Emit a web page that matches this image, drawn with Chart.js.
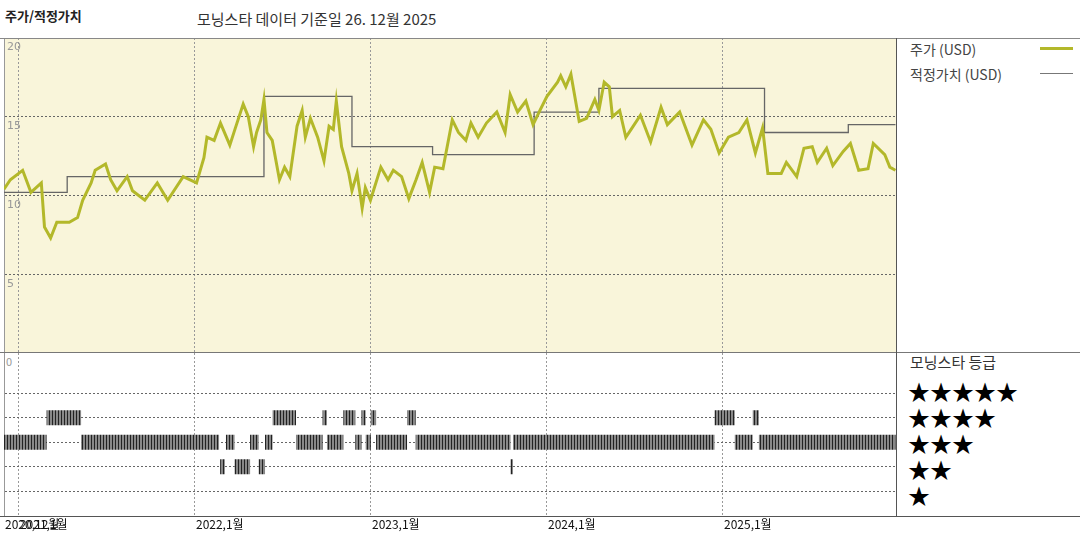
<!DOCTYPE html>
<html><head><meta charset="utf-8">
<script src="https://cdn.jsdelivr.net/npm/chart.js@4"></script>
<style>
body{margin:0;background:#fff;font-family:"Noto Sans CJK KR","Noto Sans",sans-serif;}
#wrap{position:relative;width:1080px;height:540px;overflow:hidden;}
.t{position:absolute;white-space:nowrap;color:#222;}
.hl{position:absolute;background:#555;}
canvas{position:absolute;}
</style></head><body>
<div id="wrap">
<div class="t" style="left:5px;top:6px;font-size:13px;font-weight:bold;">주가/적정가치</div>
<div class="t" style="left:197px;top:8px;font-size:15px;color:#333;">모닝스타 데이터 기준일 26. 12월 2025</div>
<div class="t" style="left:910px;top:39px;font-size:14px;color:#444;">주가 (USD)</div>
<div class="hl" style="left:1040px;top:47px;width:33px;height:3px;background:#b3b82a;"></div>
<div class="t" style="left:910px;top:64px;font-size:14px;color:#444;">적정가치 (USD)</div>
<div class="hl" style="left:1040px;top:73px;width:33px;height:1px;background:#777;"></div>
<div class="t" style="left:910px;top:351px;font-size:15px;color:#333;">모닝스타 등급</div>
<div class="t" style="left:908px;top:377px;font-size:22px;line-height:26px;color:#000;">★★★★★<br>★★★★<br>★★★<br>★★<br>★</div>
<div class="t" style="left:6px;top:353px;font-size:11px;color:#999;">0</div>
<canvas id="c1" width="892" height="315" style="left:4px;top:38px;"></canvas>
<canvas id="c2" width="892" height="187" style="left:4px;top:353px;"></canvas>
<div class="hl" style="left:0;top:38px;width:1080px;height:1px;background:#888;"></div>
<div class="hl" style="left:0;top:352px;width:1080px;height:1px;background:#777;"></div>
<div class="hl" style="left:0;top:516px;width:1080px;height:1px;background:#555;"></div>
<div class="hl" style="left:896px;top:38px;width:1px;height:479px;background:#555;"></div>
</div>
<script>
const xMin = 2020.915, xMax = 2025.983;
const yearTicks = [2021, 2022, 2023, 2024, 2025];
const xLabelPos = [2020.915, 2021, 2022, 2023, 2024, 2025];
const xLabels = ["2020,12월", "2021,1월", "2022,1월", "2023,1월", "2024,1월", "2025,1월"];
const priceTicks = [5, 10, 15, 20];

const priceDates = [2020.915,2020.951,2021.021,2021.068,2021.127,2021.145,2021.180,2021.215,2021.286,2021.333,2021.362,2021.410,2021.433,2021.492,2021.521,2021.557,2021.615,2021.645,2021.715,2021.786,2021.845,2021.933,2022.009,2022.051,2022.068,2022.109,2022.145,2022.198,2022.227,2022.274,2022.303,2022.333,2022.350,2022.374,2022.392,2022.409,2022.439,2022.480,2022.509,2022.539,2022.580,2022.609,2022.627,2022.656,2022.697,2022.733,2022.762,2022.786,2022.803,2022.833,2022.874,2022.892,2022.921,2022.950,2022.968,2022.997,2023.056,2023.097,2023.127,2023.174,2023.215,2023.256,2023.291,2023.333,2023.362,2023.409,2023.462,2023.497,2023.539,2023.568,2023.609,2023.656,2023.715,2023.762,2023.791,2023.833,2023.880,2023.921,2023.960,2024.000,2024.060,2024.078,2024.107,2024.136,2024.183,2024.225,2024.272,2024.295,2024.325,2024.354,2024.372,2024.413,2024.448,2024.478,2024.531,2024.589,2024.648,2024.684,2024.754,2024.824,2024.889,2024.931,2024.978,2025.031,2025.090,2025.136,2025.184,2025.225,2025.255,2025.331,2025.360,2025.419,2025.460,2025.507,2025.536,2025.589,2025.624,2025.683,2025.724,2025.771,2025.824,2025.854,2025.919,2025.948,2025.980];
const priceValues = [10.4,11.0,11.6,10.2,10.8,8.0,7.3,8.3,8.3,8.6,9.7,10.8,11.6,12.0,11.0,10.3,11.2,10.3,9.7,10.8,9.7,11.2,10.8,12.4,13.7,13.5,14.6,13.2,14.2,15.8,15.0,13.1,14.0,14.8,16.1,14.0,13.5,11.0,11.8,11.2,14.4,15.4,13.7,14.9,13.7,12.2,14.4,14.2,16.0,13.1,11.4,10.3,11.4,9.2,10.5,9.7,11.8,11.0,11.6,11.2,9.8,11.0,12.1,10.2,11.8,11.7,14.8,14.0,13.5,14.6,13.7,14.6,15.3,14.0,16.4,15.3,16.0,14.5,15.4,16.3,17.2,17.6,16.9,17.7,14.7,14.9,16.1,15.4,17.2,16.9,15.0,15.4,13.7,14.2,15.1,13.4,15.6,14.5,15.3,13.2,14.8,14.2,12.7,13.7,14.0,14.8,12.7,14.3,11.4,11.4,12.1,11.2,13.0,13.1,12.1,13.0,11.9,12.8,13.3,11.6,11.7,13.3,12.6,11.8,11.6];

const fairDates = [2020.915,2021.274,2022.392,2022.892,2023.350,2023.927,2024.295,2025.236,2025.712,2025.980];
const fairValues = [10.2,11.2,16.3,13.1,12.6,15.3,16.8,14.0,14.5,14.5];

const ratingStart = [2020.915,2021.157,2021.353,2022.143,2022.176,2022.225,2022.313,2022.362,2022.398,2022.441,2022.574,2022.725,2022.750,2022.843,2022.911,2022.946,2022.970,2022.999,2023.029,2023.205,2023.254,2023.793,2023.807,2024.952,2025.067,2025.169,2025.204];
const ratingEnd   = [2021.157,2021.353,2022.137,2022.170,2022.225,2022.313,2022.362,2022.398,2022.441,2022.574,2022.725,2022.750,2022.843,2022.911,2022.946,2022.970,2022.999,2023.029,2023.205,2023.254,2023.793,2023.807,2024.952,2025.067,2025.169,2025.204,2025.981];
const ratingStars = [3,4,3,2,3,2,3,2,3,4,3,4,3,4,3,4,3,4,3,4,3,2,3,4,3,4,3];

const fairData = [];
fairDates.forEach((d,i)=>{ if(i>0) fairData.push({x:d,y:fairValues[i-1]}); fairData.push({x:d,y:fairValues[i]}); });
const ratingData = [];
ratingStart.forEach((s,i)=>{ ratingData.push({x:s,y:ratingStars[i]},{x:ratingEnd[i],y:ratingStars[i]},{x:ratingEnd[i],y:null}); });

// stripe pattern for rating bars
const pc = document.createElement('canvas'); pc.width=3; pc.height=4;
const px = pc.getContext('2d'); px.fillStyle='#888'; px.fillRect(0,0,3,4); px.fillStyle='#222'; px.fillRect(0,0,1,4);
const stripe = px.createPattern(pc,'repeat');

const gridCommon = {color:'#999', drawTicks:false, lineWidth:1};
function xScale(){ return {type:'linear',min:xMin,max:xMax,
  afterBuildTicks:s=>{s.ticks=yearTicks.map(v=>({value:v}));},
  ticks:{display:false}, grid:gridCommon, border:{display:false,dash:[2,2]}}; }

const bgPlugin = {id:'bg', beforeDraw(c,a,o){ if(!o.color) return; const ca=c.chartArea; c.ctx.save(); c.ctx.fillStyle=o.color; c.ctx.fillRect(ca.left,ca.top,ca.right-ca.left,ca.bottom-ca.top); c.ctx.restore(); }};

Chart.register(bgPlugin);

new Chart(document.getElementById('c1'), {
  type:'line',
  data:{datasets:[
    {data:priceDates.map((d,i)=>({x:d,y:priceValues[i]})), borderColor:'#b3b82a', borderWidth:3, pointRadius:0, tension:0},
    {data:fairData, borderColor:'#666', borderWidth:1.3, pointRadius:0, tension:0}
  ]},
  options:{responsive:false, animation:false, layout:{padding:0},
    plugins:{legend:{display:false}, tooltip:{enabled:false}, bg:{color:'#f9f5da'}},
    scales:{x:xScale(),
      y:{min:0,max:20, afterBuildTicks:s=>{s.ticks=priceTicks.map(v=>({value:v}));}, ticks:{display:false}, grid:Object.assign({},gridCommon,{color:'#666'}), border:{display:true,color:'#999',dash:[2,2]}}}
  },
  plugins:[{id:'ylab', afterDraw(c){ const ctx=c.ctx, y=c.scales.y; ctx.save(); ctx.fillStyle='#999'; ctx.font='11px "DejaVu Sans", sans-serif'; ctx.textBaseline='top';
    priceTicks.forEach(v=>ctx.fillText(String(v), c.chartArea.left+3, y.getPixelForValue(v)+4)); ctx.restore(); }}]
});

new Chart(document.getElementById('c2'), {
  type:'line',
  data:{datasets:[{data:ratingData, borderColor:stripe, borderWidth:15, borderCapStyle:'butt', pointRadius:0, spanGaps:false, tension:0}]},
  options:{responsive:false, animation:false, layout:{padding:{bottom:24}},
    plugins:{legend:{display:false}, tooltip:{enabled:false}},
    scales:{x:xScale(),
      y:{min:0,max:6.63, afterBuildTicks:s=>{s.ticks=[1,2,3,4,5].map(v=>({value:v}));}, ticks:{display:false}, grid:Object.assign({},gridCommon,{color:'#666'}), border:{display:true,color:'#999',dash:[2,2]}}}
  },
  plugins:[{id:'xlab', afterDraw(c){ const ctx=c.ctx, x=c.scales.x; ctx.save(); ctx.fillStyle='#111'; ctx.font='12px "Noto Sans CJK KR", sans-serif'; ctx.textBaseline='top';
    xLabelPos.forEach((v,i)=>ctx.fillText(xLabels[i], x.getPixelForValue(v)+1, c.chartArea.bottom+2)); ctx.restore(); }}]
});
</script>
</body></html>
